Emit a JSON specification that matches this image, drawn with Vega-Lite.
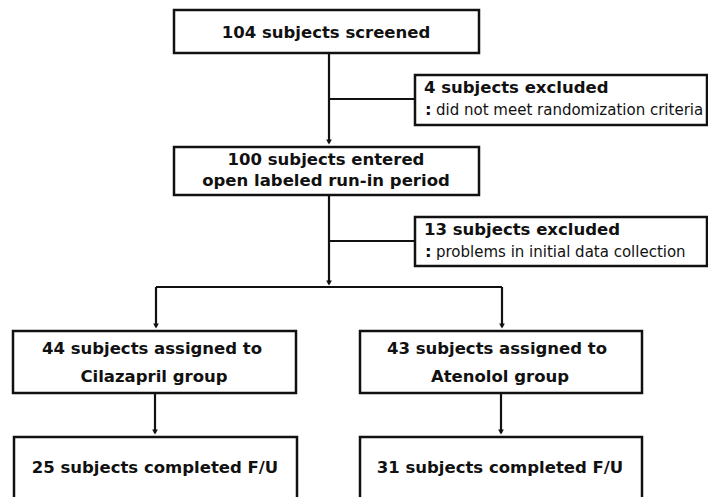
{
  "$schema": "https://vega.github.io/schema/vega-lite/v6.json",
  "width": 708,
  "height": 497,
  "autosize": {"type": "fit", "contains": "padding"},
  "padding": 0,
  "background": "white",
  "config": {"view": {"stroke": null}},
  "datasets": {
    "boxes": [
      {"x1": 174, "x2": 479, "y1": 10, "y2": 53},
      {"x1": 174, "x2": 479, "y1": 147, "y2": 195},
      {"x1": 415, "x2": 707, "y1": 75, "y2": 125},
      {"x1": 415, "x2": 707, "y1": 217, "y2": 266},
      {"x1": 13, "x2": 296, "y1": 331, "y2": 393},
      {"x1": 360, "x2": 642, "y1": 331, "y2": 393},
      {"x1": 14, "x2": 297, "y1": 437, "y2": 510},
      {"x1": 360, "x2": 642, "y1": 437, "y2": 510}
    ],
    "rules": [
      {"x1": 329, "y1": 53, "x2": 329, "y2": 143},
      {"x1": 329, "y1": 99, "x2": 415, "y2": 99},
      {"x1": 329, "y1": 195, "x2": 329, "y2": 284},
      {"x1": 329, "y1": 241, "x2": 415, "y2": 241},
      {"x1": 156, "y1": 287, "x2": 502, "y2": 287},
      {"x1": 156, "y1": 287, "x2": 156, "y2": 327},
      {"x1": 502, "y1": 287, "x2": 502, "y2": 327},
      {"x1": 155, "y1": 393, "x2": 155, "y2": 433},
      {"x1": 501, "y1": 393, "x2": 501, "y2": 433}
    ],
    "arrows": [
      {"x": 329, "y": 142},
      {"x": 329, "y": 283},
      {"x": 156, "y": 326},
      {"x": 502, "y": 326},
      {"x": 155, "y": 432},
      {"x": 501, "y": 432}
    ],
    "centered": [
      {"x": 326, "y": 33, "t": "104 subjects screened"},
      {"x": 326, "y": 160, "t": "100 subjects entered"},
      {"x": 326, "y": 181, "t": "open labeled run-in period"},
      {"x": 152, "y": 349, "t": "44 subjects assigned to"},
      {"x": 154, "y": 377, "t": "Cilazapril group"},
      {"x": 497, "y": 349, "t": "43 subjects assigned to"},
      {"x": 500, "y": 377, "t": "Atenolol group"},
      {"x": 155, "y": 468, "t": "25 subjects completed F/U"},
      {"x": 500, "y": 468, "t": "31 subjects completed F/U"}
    ],
    "leftbold": [
      {"x": 424, "y": 88, "t": "4 subjects excluded"},
      {"x": 424, "y": 230, "t": "13 subjects excluded"},
      {"x": 425, "y": 110, "t": ":"},
      {"x": 425, "y": 252, "t": ":"}
    ],
    "leftreg": [
      {"x": 436, "y": 110, "t": "did not meet randomization criteria"},
      {"x": 436, "y": 252, "t": "problems in initial data collection"}
    ]
  },
  "layer": [
    {
      "data": {"name": "boxes"},
      "mark": {"type": "rect", "fill": "white", "stroke": "#111", "strokeWidth": 2.5, "clip": true},
      "encoding": {
        "x": {"field": "x1", "type": "quantitative", "scale": {"domain": [0, 708], "nice": false, "zero": false}, "axis": null},
        "x2": {"field": "x2"},
        "y": {"field": "y1", "type": "quantitative", "scale": {"domain": [497, 0], "nice": false, "zero": false}, "axis": null},
        "y2": {"field": "y2"}
      }
    },
    {
      "data": {"name": "rules"},
      "mark": {"type": "rule", "stroke": "#111", "strokeWidth": 2.2},
      "encoding": {
        "x": {"field": "x1", "type": "quantitative", "scale": {"domain": [0, 708], "nice": false, "zero": false}, "axis": null},
        "x2": {"field": "x2"},
        "y": {"field": "y1", "type": "quantitative", "scale": {"domain": [497, 0], "nice": false, "zero": false}, "axis": null},
        "y2": {"field": "y2"}
      }
    },
    {
      "data": {"name": "arrows"},
      "mark": {"type": "point", "shape": "triangle-down", "filled": true, "color": "#111", "size": 32, "opacity": 1},
      "encoding": {
        "x": {"field": "x", "type": "quantitative", "scale": {"domain": [0, 708], "nice": false, "zero": false}, "axis": null},
        "y": {"field": "y", "type": "quantitative", "scale": {"domain": [497, 0], "nice": false, "zero": false}, "axis": null}
      }
    },
    {
      "data": {"name": "centered"},
      "mark": {"type": "text", "font": "DejaVu Sans", "fontWeight": "bold", "fontSize": 16.5, "align": "center", "baseline": "middle", "color": "#111"},
      "encoding": {
        "x": {"field": "x", "type": "quantitative", "scale": {"domain": [0, 708], "nice": false, "zero": false}, "axis": null},
        "y": {"field": "y", "type": "quantitative", "scale": {"domain": [497, 0], "nice": false, "zero": false}, "axis": null},
        "text": {"field": "t"}
      }
    },
    {
      "data": {"name": "leftbold"},
      "mark": {"type": "text", "font": "DejaVu Sans", "fontWeight": "bold", "fontSize": 16.5, "align": "left", "baseline": "middle", "color": "#111"},
      "encoding": {
        "x": {"field": "x", "type": "quantitative", "scale": {"domain": [0, 708], "nice": false, "zero": false}, "axis": null},
        "y": {"field": "y", "type": "quantitative", "scale": {"domain": [497, 0], "nice": false, "zero": false}, "axis": null},
        "text": {"field": "t"}
      }
    },
    {
      "data": {"name": "leftreg"},
      "mark": {"type": "text", "font": "DejaVu Sans", "fontSize": 15, "align": "left", "baseline": "middle", "color": "#111"},
      "encoding": {
        "x": {"field": "x", "type": "quantitative", "scale": {"domain": [0, 708], "nice": false, "zero": false}, "axis": null},
        "y": {"field": "y", "type": "quantitative", "scale": {"domain": [497, 0], "nice": false, "zero": false}, "axis": null},
        "text": {"field": "t"}
      }
    }
  ]
}
